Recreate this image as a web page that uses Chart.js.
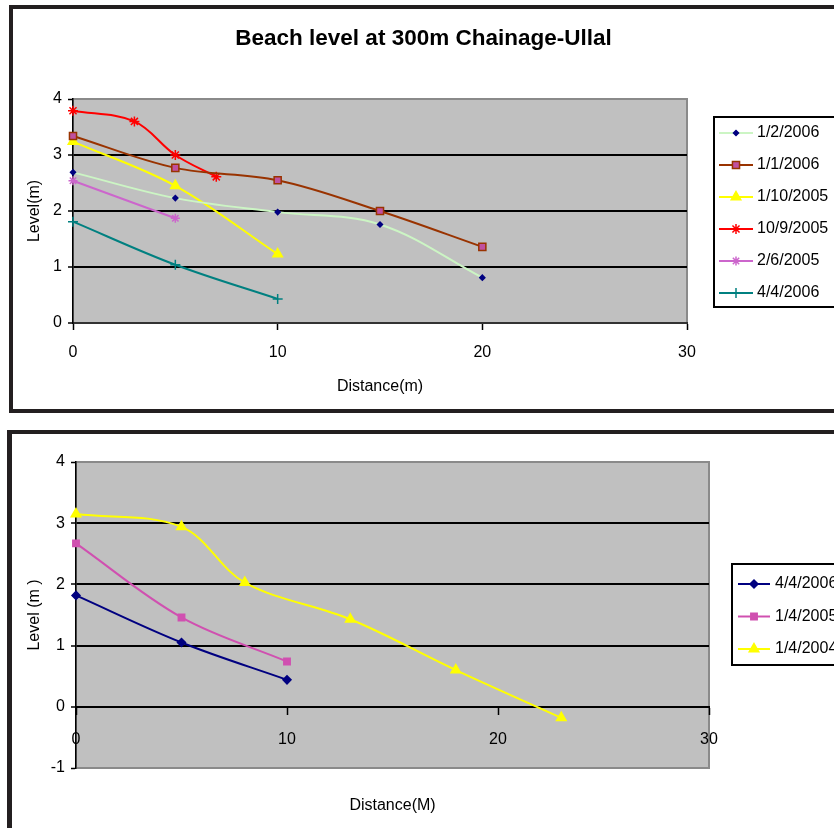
<!DOCTYPE html>
<html lang="en">
<head>
<meta charset="UTF-8" />
<title>Beach level at 300m Chainage-Ullal</title>
<script src="https://cdn.jsdelivr.net/npm/chart.js"></script>
<style>
  html, body { margin: 0; padding: 0; width: 834px; height: 828px; overflow: hidden; background: #fff; }
  .frame { position: absolute; border: 4px solid #231f20; border-right: none; background: #fff; }
  #f1 { left: 9px; top: 5px; }
  #f2 { left: 7px; top: 430px; border-left-width: 5px; border-bottom: none; }
  canvas { display: block; }
</style>
</head>
<body>
<div class="frame" id="f1"><canvas id="topChart" width="821" height="400"></canvas></div>
<div class="frame" id="f2"><canvas id="bottomChart" width="822" height="394"></canvas></div>

<script>
// top chart: distance (m) / level (m) per survey date
const jan2x = [0, 5, 10, 15, 20];
const jan2y = [2.69, 2.23, 1.98, 1.76, 0.81];
const jan1x = [0, 5, 10, 15, 20];
const jan1y = [3.34, 2.77, 2.55, 2.0, 1.36];
const oct1x = [0, 5, 10];
const oct1y = [3.24, 2.45, 1.23];
const sep10x = [0, 3, 5, 7];
const sep10y = [3.79, 3.6, 3.0, 2.61];
const jun2x = [0, 5];
const jun2y = [2.54, 1.87];
const apr4x = [0, 5, 10];
const apr4y = [1.81, 1.04, 0.43];

// bottom chart
const b2006x = [0, 5, 10];
const b2006y = [1.82, 1.05, 0.44];
const b2005x = [0, 5, 10];
const b2005y = [2.67, 1.46, 0.74];
const b2004x = [0, 5, 8, 13, 18, 23];
const b2004y = [3.15, 2.94, 2.03, 1.43, 0.6, -0.18];

const xTicks = [0, 10, 20, 30];

Chart.defaults.font.family = '"Liberation Sans", Arial, sans-serif';
Chart.defaults.font.size = 16;
Chart.defaults.color = "#000";

const pts = (xs, ys) => xs.map((x, i) => ({ x: x, y: ys[i] }));

// grey plot area like excel
const plotBg = {
  id: "plotBg",
  beforeDraw(chart) {
    const { ctx, chartArea: a } = chart;
    ctx.save();
    ctx.fillStyle = "#c0c0c0";
    ctx.fillRect(a.left, a.top, a.width, a.height);
    ctx.strokeStyle = "#8a8a8a";
    ctx.lineWidth = 2;
    ctx.strokeRect(a.left, a.top, a.width, a.height);
    ctx.restore();
  },
};

// excel style legend box: line with marker, then label
const boxLegend = {
  id: "boxLegend",
  afterDraw(chart, args, o) {
    const ctx = chart.ctx;
    ctx.save();
    ctx.strokeStyle = "#000";
    ctx.lineWidth = 2;
    ctx.strokeRect(o.x, o.y, o.w, o.h);
    chart.data.datasets.forEach((ds, i) => {
      const y = o.firstY + i * o.step;
      ctx.strokeStyle = ds.borderColor;
      ctx.lineWidth = 2;
      ctx.beginPath();
      ctx.moveTo(o.lineX, y);
      ctx.lineTo(o.lineX + o.lineW, y);
      ctx.stroke();
      ctx.fillStyle = ds.pointBackgroundColor;
      ctx.strokeStyle = ds.pointBorderColor;
      ctx.lineWidth = ds.pointBorderWidth;
      Chart.helpers.drawPoint(ctx, {
        pointStyle: ds.pointStyle,
        radius: ds.pointRadius,
        borderWidth: ds.pointBorderWidth,
        rotation: 0,
      }, o.lineX + o.lineW / 2, y);
      ctx.fillStyle = "#000";
      ctx.font = '16px "Liberation Sans", Arial, sans-serif';
      ctx.textBaseline = "middle";
      ctx.fillText(ds.label, o.textX, y);
    });
    ctx.restore();
  },
};

function series(label, data, color, style, radius, fill, border) {
  return {
    label: label,
    data: data,
    borderColor: color,
    borderWidth: 2,
    pointStyle: style,
    pointRadius: radius,
    pointBackgroundColor: fill || color,
    pointBorderColor: border || color,
    pointBorderWidth: 1.5,
    tension: 0.35,
    clip: false,
  };
}

function yGrid(max, min) {
  return {
    color: (c) => (c.tick.value === max || c.tick.value === min) ? "#8a8a8a" : "#000",
    lineWidth: (c) => (c.tick.value === max || c.tick.value === min) ? 1 : 2,
    tickColor: "#000",
    tickLength: 5,
    tickWidth: 1.5,
  };
}

new Chart(document.getElementById("topChart"), {
  type: "line",
  data: {
    datasets: [
      series("1/2/2006", pts(jan2x, jan2y), "#ccf5c4", "rectRot", 2.5, "#000080", "#000080"),
      series("1/1/2006", pts(jan1x, jan1y), "#993300", "rect", 5, "#c050a0", "#993300"),
      series("1/10/2005", pts(oct1x, oct1y), "#ffff00", "triangle", 5.5),
      series("10/9/2005", pts(sep10x, sep10y), "#ff0000", "star", 5),
      series("2/6/2005", pts(jun2x, jun2y), "#cc66cc", "star", 4.5),
      series("4/4/2006", pts(apr4x, apr4y), "#008080", "cross", 5),
    ],
  },
  options: {
    responsive: false,
    animation: false,
    layout: { padding: 0 },
    plugins: {
      legend: { display: false },
      tooltip: { enabled: false },
      title: {
        display: true,
        text: "Beach level at 300m Chainage-Ullal",
        font: { size: 22.5, weight: "bold" },
        color: "#000",
        padding: { top: 16, bottom: 47 },
      },
      boxLegend: { x: 701, y: 108, w: 200, h: 190, firstY: 124, step: 32, lineX: 706, lineW: 34, textX: 744 },
    },
    scales: {
      x: {
        type: "linear",
        min: 0,
        max: 30,
        afterBuildTicks: (s) => { s.ticks = xTicks.map((v) => ({ value: v })); },
        afterFit: (s) => { s.height = 86; },
        ticks: { padding: 13 },
        grid: { drawOnChartArea: false, tickLength: 7, tickColor: "#000", tickWidth: 1.5 },
        border: { color: "#333", width: 2 },
        title: { display: true, text: "Distance(m)", padding: { top: 0, bottom: 13 } },
      },
      y: {
        min: 0,
        max: 4,
        ticks: { stepSize: 1, padding: 6 },
        afterFit: (s) => { s.width = 60; },
        grid: yGrid(4, -99),
        border: { color: "#000", width: 1.5 },
        title: { display: true, text: "Level(m)", padding: { top: 12, bottom: 0 } },
      },
      // empty right axis keeps room for the legend box
      yRight: {
        position: "right",
        ticks: { display: false },
        grid: { display: false },
        border: { display: false },
        afterFit: (s) => { s.width = 147; },
      },
    },
  },
  plugins: [plotBg, boxLegend],
});

new Chart(document.getElementById("bottomChart"), {
  type: "line",
  data: {
    datasets: [
      series("4/4/2006", pts(b2006x, b2006y), "#000080", "rectRot", 4),
      series("1/4/2005", pts(b2005x, b2005y), "#d050b0", "rect", 4.5),
      series("1/4/2004", pts(b2004x, b2004y), "#ffff00", "triangle", 5.5),
    ],
  },
  options: {
    responsive: false,
    animation: false,
    layout: { padding: { left: 0, top: 28, right: 125, bottom: 60 } },
    plugins: {
      legend: { display: false },
      tooltip: { enabled: false },
      title: { display: false },
      boxLegend: { x: 720, y: 130, w: 200, h: 101, firstY: 150, step: 32.5, lineX: 726, lineW: 32, textX: 763 },
    },
    scales: {
      x: {
        type: "linear",
        position: { y: 0 },
        min: 0,
        max: 30,
        afterBuildTicks: (s) => { s.ticks = xTicks.map((v) => ({ value: v })); },
        afterFit: (s) => { s.height = 120; },
        ticks: { padding: 16 },
        grid: { drawOnChartArea: false, tickLength: 7, tickColor: "#000", tickWidth: 1.5 },
        border: { color: "#000", width: 2 },
        title: { display: true, text: "Distance(M)", padding: { top: 0, bottom: 12 } },
      },
      y: {
        min: -1,
        max: 4,
        ticks: { stepSize: 1, padding: 6 },
        afterFit: (s) => { s.width = 64; },
        grid: yGrid(4, -1),
        border: { color: "#000", width: 1.5 },
        title: { display: true, text: "Level (m )", padding: { top: 13, bottom: 0 } },
      },
    },
  },
  plugins: [plotBg, boxLegend],
});
</script>
</body>
</html>
